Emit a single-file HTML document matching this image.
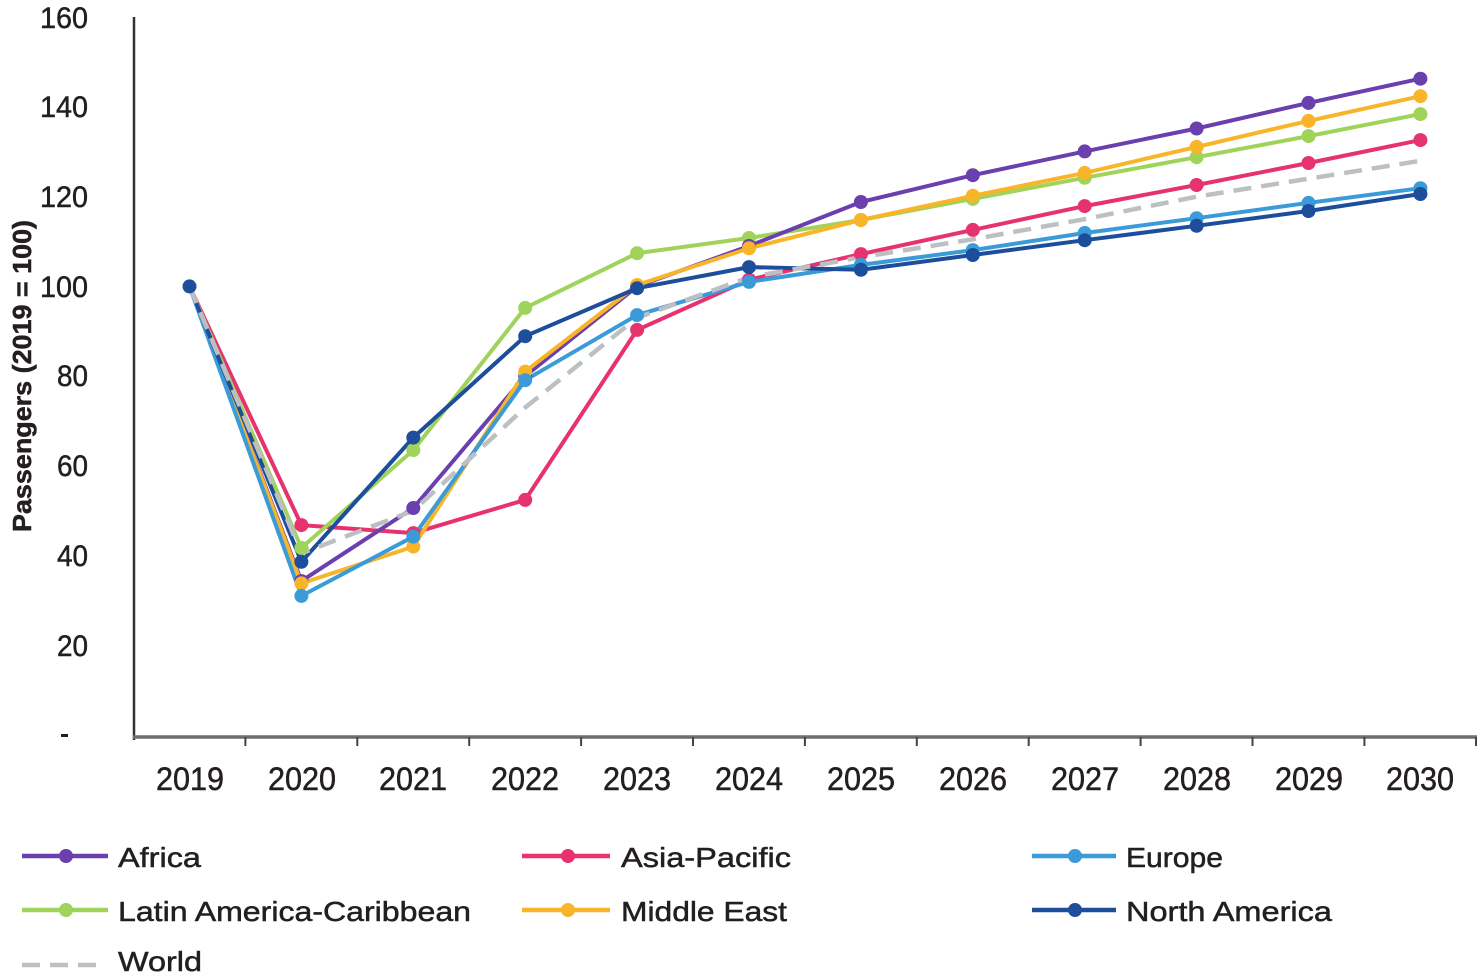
<!DOCTYPE html>
<html><head><meta charset="utf-8"><style>
html,body{margin:0;padding:0;background:#fff;}
svg{display:block;}
text{font-family:"Liberation Sans",Arial,sans-serif;fill:#231f20;stroke:#231f20;stroke-width:0.5px;}
</style></head><body>
<svg width="1480" height="978" viewBox="0 0 1480 978" xmlns="http://www.w3.org/2000/svg">
<rect width="1480" height="978" fill="#fff"/>
<!-- y axis labels -->
<g font-size="30" text-anchor="end">
<text x="88" y="28" textLength="48" lengthAdjust="spacingAndGlyphs">160</text>
<text x="88" y="117" textLength="48" lengthAdjust="spacingAndGlyphs">140</text>
<text x="88" y="207" textLength="48" lengthAdjust="spacingAndGlyphs">120</text>
<text x="88" y="297" textLength="48" lengthAdjust="spacingAndGlyphs">100</text>
<text x="88" y="386" textLength="31" lengthAdjust="spacingAndGlyphs">80</text>
<text x="88" y="476" textLength="31" lengthAdjust="spacingAndGlyphs">60</text>
<text x="88" y="566" textLength="31" lengthAdjust="spacingAndGlyphs">40</text>
<text x="88" y="656" textLength="31" lengthAdjust="spacingAndGlyphs">20</text>
</g>
<rect x="61" y="734" width="7" height="3" fill="#231f20"/>
<text transform="translate(31,376) rotate(-90)" font-size="26" font-weight="bold" text-anchor="middle" textLength="312" lengthAdjust="spacingAndGlyphs">Passengers (2019 = 100)</text>
<!-- axes -->
<line x1="134" y1="17" x2="134" y2="740" stroke="#333" stroke-width="2.5"/>
<line x1="133" y1="737" x2="1477" y2="737" stroke="#6d6e70" stroke-width="3.5"/>
<g stroke="#444" stroke-width="2">
<line x1="245.4" y1="737" x2="245.4" y2="746"/><line x1="357.3" y1="737" x2="357.3" y2="746"/>
<line x1="469.2" y1="737" x2="469.2" y2="746"/><line x1="581.1" y1="737" x2="581.1" y2="746"/>
<line x1="693" y1="737" x2="693" y2="746"/><line x1="804.9" y1="737" x2="804.9" y2="746"/>
<line x1="916.8" y1="737" x2="916.8" y2="746"/><line x1="1028.7" y1="737" x2="1028.7" y2="746"/>
<line x1="1140.6" y1="737" x2="1140.6" y2="746"/><line x1="1252.5" y1="737" x2="1252.5" y2="746"/>
<line x1="1364.4" y1="737" x2="1364.4" y2="746"/><line x1="1476" y1="737" x2="1476" y2="746"/>
</g>
<g font-size="32" text-anchor="middle">
<text x="190" y="790" textLength="68" lengthAdjust="spacingAndGlyphs">2019</text>
<text x="302" y="790" textLength="68" lengthAdjust="spacingAndGlyphs">2020</text>
<text x="413" y="790" textLength="68" lengthAdjust="spacingAndGlyphs">2021</text>
<text x="525" y="790" textLength="68" lengthAdjust="spacingAndGlyphs">2022</text>
<text x="637" y="790" textLength="68" lengthAdjust="spacingAndGlyphs">2023</text>
<text x="749" y="790" textLength="68" lengthAdjust="spacingAndGlyphs">2024</text>
<text x="861" y="790" textLength="68" lengthAdjust="spacingAndGlyphs">2025</text>
<text x="973" y="790" textLength="68" lengthAdjust="spacingAndGlyphs">2026</text>
<text x="1085" y="790" textLength="68" lengthAdjust="spacingAndGlyphs">2027</text>
<text x="1197" y="790" textLength="68" lengthAdjust="spacingAndGlyphs">2028</text>
<text x="1309" y="790" textLength="68" lengthAdjust="spacingAndGlyphs">2029</text>
<text x="1420" y="790" textLength="68" lengthAdjust="spacingAndGlyphs">2030</text>
</g>
<!-- series -->
<g fill="none" stroke-width="4" stroke-linejoin="round">
<polyline stroke="#e6336f" points="189.5,286.4 301.4,525.1 413.3,533.1 525.2,499.9 637.1,329.9 749,279.7 860.9,254.1 972.8,229.9 1084.7,206.1 1196.6,185 1308.5,163 1420.4,140.1"/>
<polyline stroke="#9fd35a" points="189.5,286.4 301.4,547.9 413.3,450.1 525.2,307.9 637.1,253.2 749,238 860.9,220 972.8,198.9 1084.7,177.8 1196.6,157.2 1308.5,136.1 1420.4,114.1"/>
<polyline stroke="#6a3fae" points="189.5,286.4 301.4,581.1 413.3,508 525.2,376.1 637.1,286.4 749,246 860.9,202 972.8,175.2 1084.7,151.4 1196.6,128.5 1308.5,102.9 1420.4,78.7"/>
<polyline stroke="#f8b52a" points="189.5,286.4 301.4,583.4 413.3,546.6 525.2,371.6 637.1,285 749,248.3 860.9,220 972.8,195.8 1084.7,172.9 1196.6,146.9 1308.5,120.9 1420.4,96.2"/>
<polyline stroke="#3b9bd8" points="189.5,286.4 301.4,595.9 413.3,536.7 525.2,380.2 637.1,315.1 749,281.9 860.9,264.9 972.8,250.1 1084.7,233 1196.6,218.2 1308.5,202.9 1420.4,188.2"/>
<polyline stroke="#1d4e9b" points="189.5,286.4 301.4,561.8 413.3,437.6 525.2,336.2 637.1,288.2 749,267.1 860.9,269.8 972.8,255 1084.7,240.2 1196.6,225.8 1308.5,211 1420.4,194"/>
<polyline stroke="#bcc0c3" stroke-width="4.5" stroke-dasharray="18 10" points="189.5,286.4 301.4,553.3 413.3,510.7 525.2,407.5 637.1,317.8 749,277.4 860.9,257.2 972.8,239.3 1084.7,219.1 1196.6,196.7 1308.5,178.7 1420.4,160.8"/>
</g>
<!-- markers -->
<g fill="#e6336f">
<circle cx="301.4" cy="525.1" r="7"/><circle cx="413.3" cy="533.1" r="7"/><circle cx="525.2" cy="499.9" r="7"/><circle cx="637.1" cy="329.9" r="7"/><circle cx="749" cy="279.7" r="7"/><circle cx="860.9" cy="254.1" r="7"/><circle cx="972.8" cy="229.9" r="7"/><circle cx="1084.7" cy="206.1" r="7"/><circle cx="1196.6" cy="185" r="7"/><circle cx="1308.5" cy="163" r="7"/><circle cx="1420.4" cy="140.1" r="7"/>
</g>
<g fill="#9fd35a">
<circle cx="301.4" cy="547.9" r="7"/><circle cx="413.3" cy="450.1" r="7"/><circle cx="525.2" cy="307.9" r="7"/><circle cx="637.1" cy="253.2" r="7"/><circle cx="749" cy="238" r="7"/><circle cx="860.9" cy="220" r="7"/><circle cx="972.8" cy="198.9" r="7"/><circle cx="1084.7" cy="177.8" r="7"/><circle cx="1196.6" cy="157.2" r="7"/><circle cx="1308.5" cy="136.1" r="7"/><circle cx="1420.4" cy="114.1" r="7"/>
</g>
<g fill="#6a3fae">
<circle cx="301.4" cy="581.1" r="7"/><circle cx="413.3" cy="508" r="7"/><circle cx="525.2" cy="376.1" r="7"/><circle cx="637.1" cy="286.4" r="7"/><circle cx="749" cy="246" r="7"/><circle cx="860.9" cy="202" r="7"/><circle cx="972.8" cy="175.2" r="7"/><circle cx="1084.7" cy="151.4" r="7"/><circle cx="1196.6" cy="128.5" r="7"/><circle cx="1308.5" cy="102.9" r="7"/><circle cx="1420.4" cy="78.7" r="7"/>
</g>
<g fill="#f8b52a">
<circle cx="301.4" cy="583.4" r="7"/><circle cx="413.3" cy="546.6" r="7"/><circle cx="525.2" cy="371.6" r="7"/><circle cx="637.1" cy="285" r="7"/><circle cx="749" cy="248.3" r="7"/><circle cx="860.9" cy="220" r="7"/><circle cx="972.8" cy="195.8" r="7"/><circle cx="1084.7" cy="172.9" r="7"/><circle cx="1196.6" cy="146.9" r="7"/><circle cx="1308.5" cy="120.9" r="7"/><circle cx="1420.4" cy="96.2" r="7"/>
</g>
<g fill="#3b9bd8">
<circle cx="301.4" cy="595.9" r="7"/><circle cx="413.3" cy="536.7" r="7"/><circle cx="525.2" cy="380.2" r="7"/><circle cx="637.1" cy="315.1" r="7"/><circle cx="749" cy="281.9" r="7"/><circle cx="860.9" cy="264.9" r="7"/><circle cx="972.8" cy="250.1" r="7"/><circle cx="1084.7" cy="233" r="7"/><circle cx="1196.6" cy="218.2" r="7"/><circle cx="1308.5" cy="202.9" r="7"/><circle cx="1420.4" cy="188.2" r="7"/>
</g>
<g fill="#1d4e9b">
<circle cx="189.5" cy="286.4" r="7"/>
<circle cx="301.4" cy="561.8" r="7"/><circle cx="413.3" cy="437.6" r="7"/><circle cx="525.2" cy="336.2" r="7"/><circle cx="637.1" cy="288.2" r="7"/><circle cx="749" cy="267.1" r="7"/><circle cx="860.9" cy="269.8" r="7"/><circle cx="972.8" cy="255" r="7"/><circle cx="1084.7" cy="240.2" r="7"/><circle cx="1196.6" cy="225.8" r="7"/><circle cx="1308.5" cy="211" r="7"/><circle cx="1420.4" cy="194" r="7"/>
</g>
<!-- legend -->
<g stroke-width="4.5">
<line x1="22" y1="856" x2="108" y2="856" stroke="#6a3fae"/>
<line x1="522" y1="856" x2="610" y2="856" stroke="#e6336f"/>
<line x1="1032" y1="856" x2="1116" y2="856" stroke="#3b9bd8"/>
<line x1="22" y1="910" x2="108" y2="910" stroke="#9fd35a"/>
<line x1="522" y1="910" x2="610" y2="910" stroke="#f8b52a"/>
<line x1="1032" y1="910" x2="1116" y2="910" stroke="#1d4e9b"/>
<line x1="22" y1="965" x2="104" y2="965" stroke="#bcc0c3" stroke-dasharray="18 10"/>
</g>
<circle cx="66" cy="856" r="7" fill="#6a3fae"/>
<circle cx="568" cy="856" r="7" fill="#e6336f"/>
<circle cx="1075" cy="856" r="7" fill="#3b9bd8"/>
<circle cx="66" cy="910" r="7" fill="#9fd35a"/>
<circle cx="568" cy="910" r="7" fill="#f8b52a"/>
<circle cx="1075" cy="910" r="7" fill="#1d4e9b"/>
<g font-size="28">
<text x="118" y="867" textLength="83" lengthAdjust="spacingAndGlyphs">Africa</text>
<text x="621" y="867" textLength="170" lengthAdjust="spacingAndGlyphs">Asia-Pacific</text>
<text x="1126" y="867" textLength="97" lengthAdjust="spacingAndGlyphs">Europe</text>
<text x="118" y="921" textLength="353" lengthAdjust="spacingAndGlyphs">Latin America-Caribbean</text>
<text x="621" y="921" textLength="166" lengthAdjust="spacingAndGlyphs">Middle East</text>
<text x="1126" y="921" textLength="206" lengthAdjust="spacingAndGlyphs">North America</text>
<text x="118" y="971" textLength="84" lengthAdjust="spacingAndGlyphs">World</text>
</g>
</svg>
</body></html>
